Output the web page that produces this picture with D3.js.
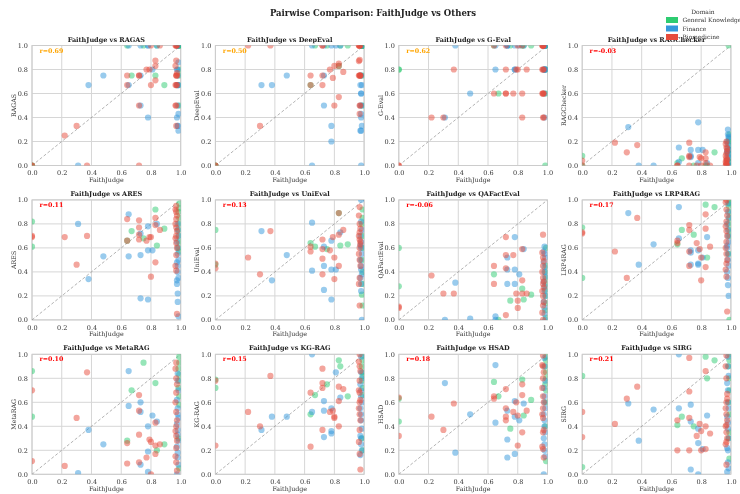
<!DOCTYPE html>
<html>
<head>
<meta charset="utf-8">
<script src="https://cdn.jsdelivr.net/npm/d3@7"></script>
<style>
  body { margin: 0; background: #fff; }
  svg { will-change: transform; }
  text { font-family: "DejaVu Serif", serif; }
</style>
</head>
<body>
<svg id="chart"></svg>
<script>
// domains and colours
const domainNames = ["General Knowledge", "Finance", "Biomedicine"];
const domainCodes = ["G", "B", "R"];
const domainColors = ["#2ecc71", "#3498db", "#e74c3c"];

// FaithJudge score per item (shared x of all panels)
const faithJudge = [
  0, 0, 0, 0, .22, .30, .31, .37, .38, .48,
  .64, .64, .64, .65, .65, .67, .72, .72, .72, .72,
  .73, .73, .73, .75, .77, .78, .78, .78, .79, .80,
  .80, .81, .83, .83, .83, .83, .84, .84, .86, .89,
  .97, .965, .97, .975, .97, .965, .97, .975, .97, .965, .97, .975, .97, .965, .97, .975,
  .98, .98, .985, .975, .98, .98, .985, .975, .98, .98, .985, .975, .98, .98, .985, .975,
  .99, .99, .985, .99, .99, .985, .99, .99, .985, .99
];
const itemDomain = [
  "G","G","R","R","R","R","B","R","B","B",
  "G","R","R","B","B","G","R","R","R","R",
  "B","B","B","G","R","B","B","B","R","R",
  "R","B","R","R","R","G","B","G","R","G",
  "R","R","R","R","R","R","R","R","R","R","R","R","R","R","R","R",
  "B","B","B","B","B","B","B","B","B","B","B","B","B","B","B","B",
  "G","G","G","G","G","G","G","G","G","G"
];

const metricNames = ["RAGAS", "DeepEval", "G-Eval", "RAGChecker", "ARES", "UniEval",
  "QAFactEval", "LRP4RAG", "MetaRAG", "KG-RAG", "HSAD", "SIRG"];
const rValues = [0.69, 0.50, 0.62, -0.03, 0.11, 0.13, -0.06, 0.17, 0.10, 0.15, 0.18, 0.21];
const ticks = [0, 0.2, 0.4, 0.6, 0.8, 1.0];

const ragas = [
  0, 0, 0, 0, .25, .33, 0, 0, .67, .75, 1, .75, .67, .67, 1, .75, .75, .75, .5, 0,
  .75, .5, 1, 1, .8, .4, 1, 1, .8, .67, 1, .8, .71, .875, .83, .75, 1, 1, 1, .67,
  1, 1, 1, 1, .875, .83, .75, .75, .75, .67, .67, .67, .5, .5, .33, .77,
  1, 1, .86, .8, .8, .75, .67, .67, .67, .5, .43, .4, .33, .33, .29, 1,
  1, 1, 1, 1, .5, .67, .75, 1, 1, .8
];
const deepEval = [
  0, 0, 0, 0, 1, .33, .67, 1, .67, .75, .67, .75, .67, 0, 1, 1, .75, .67, 1, 1,
  .75, .5, 1, 1, .8, .33, .2, 1, .73, .83, .5, 1, .85, .57, .83, .83, 1, 1, .78, 1,
  1, 1, 1, 1, .88, .87, .75, .75, .75, .75, .5, .5, .43, 1, 1, .75,
  1, .75, .67, .67, .6, .6, .5, .5, .43, .4, .33, .29, .29, 0, 1, .75,
  1, 1, 1, 1, 1, 1, .75, 1, 1, .5
];
const gEval = [
  .8, .8, 0, 0, .4, .4, .4, .8, 1, .6, 1, .6, 1, .8, 1, .6, .6, .6, .8, 1,
  1, 1, 1, 1, .6, .8, 1, .8, .8, .8, 1, 1, .6, .4, 1, 1, 1, 1, .8, 1,
  1, 1, 1, 1, 1, .8, .8, .6, .6, .6, .6, .4, .4, 1, 1, .8,
  1, 1, 1, 1, .8, .8, .8, .8, .6, .4, 1, 1, .8, 1, .8, 1,
  1, 1, 1, .6, .8, 0, 1, .8, 1, 1
];
const ragChecker = [
  .08, 0, .04, 0, .19, .11, .32, .17, 0, 0, .02, 0, 0, .15, .03, .06, .19, .08, .07, 0,
  .13, .08, .07, 0, 0, .36, .13, .02, .07, 0, .06, .13, .11, .06, .02, 0, .02, 0, 0, .11,
  .2, .18, .15, .12, .1, .08, .06, .05, .04, .03, .02, 0, 0, 0, .01, .14,
  .3, .26, .23, .2, .18, .15, .13, .11, .1, .08, .06, .04, .02, 0, .24, .12,
  .26, .22, .2, .17, .13, .1, .06, .03, 1, 0
];
const ares = [
  .82, .61, .70, .69, .69, .46, .80, .70, .34, .53, .66, .84, .66, .88, .53, .74, .83, .77, .71, .67,
  .72, .54, .18, .68, .66, .78, .58, .17, .69, .69, .36, .58, .85, .48, .79, .92, .80, .62, .75, .76,
  .95, .92, .9, .87, .84, .8, .77, .74, .7, .68, .64, .6, .54, .45, .41, .05,
  .8, .75, .7, .65, .6, .55, .5, .48, .45, .4, .35, .3, .22, .15, .03, .33,
  .97, .93, .9, .85, .8, .75, .7, .65, .6, .57
];
const uniEval = [
  .75, .46, .47, .43, .52, .38, .74, .74, .33, .54, .64, .61, .57, .81, .41, .61, .67, .59, .51, .38,
  .61, .45, .25, .59, .58, .66, .42, .17, .69, .52, .34, .42, .89, .71, .45, .89, .73, .62, .75, .63,
  .94, .87, .8, .76, .73, .7, .67, .63, .6, .55, .5, .45, .35, .3, .12, .65,
  1, .82, .75, .7, .65, .6, .55, .5, .45, .42, .38, .35, .3, .24, 0, .62,
  .92, .85, .8, .7, .6, .5, .4, .3, .21, .12
];
const qaFactEval = [
  .6, .28, .11, .1, .37, .22, 0, .22, .31, .01, .38, .45, .30, .03, 0, 0, .69, .54, .43, .04,
  .52, .42, .30, .16, .54, .69, .42, .30, .22, .16, .10, .38, .59, .33, .22, .26, .59, .17, .22, .21,
  .71, .56, .52, .49, .45, .4, .35, .32, .3, .24, .2, .15, .12, .06, 0, .27,
  .61, .55, .52, .48, .44, .4, .36, .32, .28, .24, .2, .15, .1, .05, 0, .57,
  .6, .45, .4, .35, .3, .25, .2, .14, .08, .02
];
const lrp4rag = [
  .77, .35, .73, .72, .57, .35, .89, .85, .46, .63, .63, .66, .64, .94, .68, .75, .79, .75, .57, .45,
  .58, .56, .46, .71, .64, .58, .47, .46, .59, .52, .33, .52, .88, .76, .44, .96, .69, .52, .61, .94,
  1, .98, .92, .87, .82, .78, .74, .7, .65, .6, .55, .5, .47, .42, .36, .07,
  .97, .9, .85, .8, .75, .7, .65, .6, .55, .5, .45, .4, .35, .29, .2, .62,
  1, .97, .95, .9, .85, .8, .75, .7, .55, 0
];
const metaRag = [
  .86, .48, .70, .11, .07, .47, .01, .85, .37, .25, .28, .26, .09, .86, .57, .70, .66, .53, .33, .10,
  .60, .52, .08, .93, .14, .40, .19, .02, .29, .27, 0, .49, .43, .24, .17, .76, .44, .20, .25, .25,
  .93, .88, .8, .75, .68, .6, .52, .45, .4, .36, .32, .28, .22, .15, .1, .03,
  .84, .78, .7, .62, .55, .5, .47, .42, .37, .33, .28, .23, .18, .14, .08, 0,
  .98, .93, .88, .83, .78, .72, .65, .58, .3, .05
];
const kgRag = [
  .79, .72, .78, .24, .52, .40, .37, .82, .48, .48, .50, .68, .23, 1, .52, .66, .88, .76, .72, .37,
  .61, .53, .31, .75, .52, .36, .34, .55, .53, .48, .47, .85, .73, .61, .40, .95, .64, .90, .71, .65,
  1, .94, .9, .86, .78, .7, .68, .62, .6, .55, .5, .45, .37, .27, .17, .04,
  .98, .85, .8, .75, .7, .65, .6, .55, .5, .45, .38, .32, .3, .25, .2, .16,
  .99, .95, .9, .85, .82, .78, .72, .66, .3, .2
];
const hsad = [
  .63, .44, .64, .32, .48, .37, .76, .59, .18, .50, .77, .65, .63, .91, .43, .65, .71, .55, .48, .45,
  .53, .29, .14, .38, .52, .61, .48, .17, .60, .49, .24, .45, .75, .66, .35, .79, .59, .49, .53, .62,
  .99, .91, .9, .85, .8, .72, .65, .6, .55, .5, .47, .37, .35, .23, .21, .14,
  .97, .9, .78, .72, .65, .6, .55, .5, .45, .4, .35, .3, .25, .2, .15, 0,
  .98, .95, .9, .85, .8, .75, .7, .6, .4, .11
];
const sirg = [
  .82, .06, .52, .31, .42, .63, .59, .73, .28, .54, .41, .45, .20, 1, .55, .48, .97, .69, .47, .20,
  .58, .44, .04, .40, .32, .38, .26, 0, .42, .36, .20, .21, .86, .40, .21, .98, .49, .80, .34, .95,
  .99, .9, .8, .67, .6, .55, .5, .45, .41, .4, .35, .3, .27, .25, .08, .63,
  .98, .9, .82, .76, .7, .6, .55, .48, .43, .38, .3, .22, .2, .1, .05, .02,
  1, .95, .9, .8, .7, .6, .5, .35, .3, .13
];
const metricScores = [ragas, deepEval, gEval, ragChecker, ares, uniEval,
  qaFactEval, lrp4rag, metaRag, kgRag, hsad, sirg];

function getConfig() {
  let width = 740;
  let height = 494;
  let left0 = 32, top0 = 45.5;
  let colStep = 183.4, rowStep = 154.4;
  let bodyWidth = 148.7, bodyHeight = 120;
  let container = d3.select("#chart")
    .attr("width", width)
    .attr("height", height);
  return {width, height, left0, top0, colStep, rowStep, bodyWidth, bodyHeight, container};
}

function getScales(config) {
  let xScale = d3.scaleLinear().domain([0, 1]).range([0, config.bodyWidth]);
  let yScale = d3.scaleLinear().domain([0, 1]).range([config.bodyHeight, 0]);
  return {xScale, yScale};
}

function drawPanel(i, scales, config) {
  let {container, left0, top0, colStep, rowStep, bodyWidth, bodyHeight} = config;
  let {xScale, yScale} = scales;
  let col = i % 4, row = Math.floor(i / 4);
  let g = container.append("g")
    .attr("transform", `translate(${left0 + col * colStep},${top0 + row * rowStep})`);

  // grid
  g.selectAll(".gx").data(ticks).enter().append("line")
    .attr("x1", d => xScale(d)).attr("x2", d => xScale(d))
    .attr("y1", 0).attr("y2", bodyHeight)
    .style("stroke", "#d6d6d6").style("stroke-width", 1);
  g.selectAll(".gy").data(ticks).enter().append("line")
    .attr("y1", d => yScale(d)).attr("y2", d => yScale(d))
    .attr("x1", 0).attr("x2", bodyWidth)
    .style("stroke", "#d6d6d6").style("stroke-width", 1);

  // axes (labels only, no tick marks)
  let xAxis = g.append("g")
    .attr("transform", `translate(0,${bodyHeight})`)
    .call(d3.axisBottom(xScale).tickValues(ticks).tickFormat(d3.format(".1f")).tickSize(0).tickPadding(5));
  let yAxis = g.append("g")
    .call(d3.axisLeft(yScale).tickValues(ticks).tickFormat(d3.format(".1f")).tickSize(0).tickPadding(4));
  [xAxis, yAxis].forEach(a => {
    a.select(".domain").remove();
    a.selectAll("text").style("font-family", "DejaVu Serif").style("font-size", "6.5px").style("fill", "#333");
  });

  g.append("rect")
    .attr("width", bodyWidth).attr("height", bodyHeight)
    .style("fill", "none").style("stroke", "#cccccc").style("stroke-width", 1);

  // points
  let clipId = "clip" + i;
  g.append("clipPath").attr("id", clipId).append("rect")
    .attr("width", bodyWidth).attr("height", bodyHeight);

  let scores = metricScores[i];
  let points = faithJudge.map((x, k) => ({x: x, y: scores[k], d: domainCodes.indexOf(itemDomain[k])}));
  points.sort((a, b) => a.d - b.d);

  let plot = g.append("g").attr("clip-path", `url(#${clipId})`);
  plot.append("line")
    .attr("x1", xScale(0)).attr("y1", yScale(0))
    .attr("x2", xScale(1)).attr("y2", yScale(1))
    .style("stroke", "#888").style("stroke-width", 0.8)
    .style("stroke-dasharray", "3,2").style("opacity", 0.8);
  plot.selectAll("circle").data(points).enter().append("circle")
    .attr("cx", d => xScale(d.x))
    .attr("cy", d => yScale(d.y))
    .attr("r", 3.1)
    .style("fill", d => domainColors[d.d])
    .style("fill-opacity", 0.5);

  // r label
  let r = rValues[i];
  g.append("text")
    .attr("x", bodyWidth * 0.05).attr("y", 7)
    .style("font-size", "6.3px").style("font-weight", "bold")
    .style("fill", r >= 0.5 ? "#ffa500" : "#ff0000")
    .text("r=" + r.toFixed(2));

  // titles
  g.append("text")
    .attr("x", bodyWidth / 2).attr("y", -4)
    .attr("text-anchor", "middle")
    .style("font-size", "6.5px").style("font-weight", "bold").style("fill", "#222")
    .text("FaithJudge vs " + metricNames[i]);
  g.append("text")
    .attr("x", bodyWidth / 2).attr("y", bodyHeight + 16.5)
    .attr("text-anchor", "middle")
    .style("font-size", "6.3px").style("fill", "#333")
    .text("FaithJudge");
  g.append("text")
    .attr("transform", `translate(-16,${bodyHeight / 2}) rotate(-90)`)
    .attr("text-anchor", "middle")
    .style("font-size", "6.3px").style("fill", "#333")
    .text(metricNames[i]);
}

function drawLegend(config) {
  let lg = config.container.append("g");
  lg.append("text")
    .attr("x", 703).attr("y", 14)
    .attr("text-anchor", "middle")
    .style("font-size", "6px").style("fill", "#333")
    .text("Domain");
  domainNames.forEach((name, k) => {
    lg.append("rect")
      .attr("x", 666).attr("y", 17 + k * 8.5)
      .attr("width", 12).attr("height", 6)
      .style("fill", domainColors[k]);
    lg.append("text")
      .attr("x", 682.5).attr("y", 22.2 + k * 8.5)
      .style("font-size", "5.9px").style("fill", "#333")
      .text(name);
  });
}

function drawChart() {
  let config = getConfig();
  let scales = getScales(config);
  config.container.append("text")
    .attr("x", 373).attr("y", 15.5)
    .attr("text-anchor", "middle")
    .style("font-size", "8.5px").style("font-weight", "bold").style("fill", "#222")
    .text("Pairwise Comparison: FaithJudge vs Others");
  metricNames.forEach((m, i) => drawPanel(i, scales, config));
  drawLegend(config);
}

drawChart();
</script>
</body>
</html>
